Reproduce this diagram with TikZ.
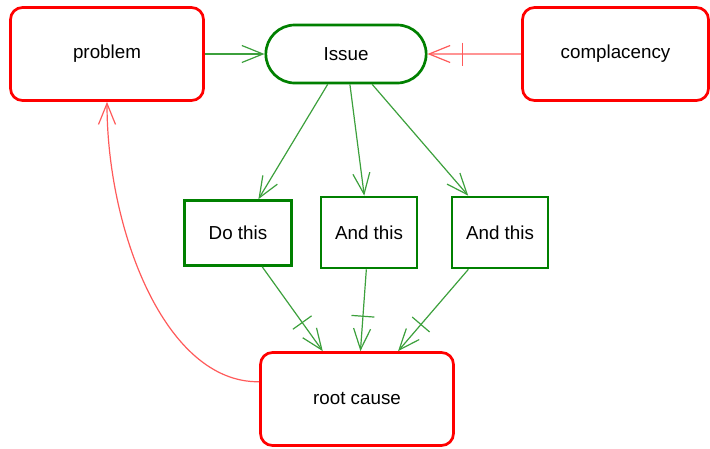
\documentclass[tikz,border=0pt]{standalone}
\usepackage{fontspec}
\setmainfont{Liberation Sans}
\usetikzlibrary{arrows.meta, shapes.misc, decorations.markings}

\definecolor{boxred}{RGB}{255,0,0}
\definecolor{boxgreen}{RGB}{0,128,0}
\definecolor{linegreen}{RGB}{60,160,60}
\definecolor{linered}{RGB}{255,90,90}

\begin{document}
\begin{tikzpicture}[x=1pt, y=-1pt,
    font=\fontsize{18.8}{22}\selectfont,
    redbox/.style={draw=boxred, line width=2.7pt, rounded corners=12pt,
        minimum width=193pt, minimum height=93pt},
    issuebox/.style={draw=boxgreen, line width=2.7pt, rounded rectangle,
        minimum width=167pt, minimum height=58pt},
    taskbox/.style={draw=boxgreen, line width=2.7pt, minimum width=96pt, minimum height=71pt},
    gline/.style={color=linegreen, line width=1.2pt, -{Straight Barb[length=21pt, width=17pt]}},
    rline/.style={color=linered, line width=1.2pt, -{Straight Barb[length=21pt, width=17pt]}},
    barred/.style={postaction={decorate, decoration={markings,
        mark=at position -35pt with {\draw[-] (0,-11.5pt) -- (0,11.5pt);}}}}
]
    % Fix the frame
    \useasboundingbox (0,0) rectangle (710,448);

    % Top row
    \node[redbox] (pb) at (107,54) {problem};
    \node[issuebox] (iss) at (346,54) {Issue};
    \node[redbox, minimum width=186pt] (cp) at (615.5,54) {complacency};

    % Tasks
    \node[taskbox, minimum width=107pt, minimum height=65pt] (do) at (238,233) {Do this};
    \node[taskbox] (and1) at (369,232.5) {And this};
    \node[taskbox] (and2) at (500,232.5) {And this};

    % Bottom
    \node[redbox] (rc) at (357,399) {root cause};

    % Connectors into the issue
    \draw[gline] (pb) -- (iss);
    \draw[rline, barred] (cp) -- (iss);

    % Issue to tasks
    \draw[gline] (iss) -- (do);
    \draw[gline] (iss) -- (and1);
    \draw[gline] (iss) -- (and2);

    % Tasks to root cause
    \draw[gline, barred] (do) -- (rc);
    \draw[gline, barred] (and1) -- (rc);
    \draw[gline, barred] (and2) -- (rc);

    % Root cause back to problem
    \draw[rline] (rc.170) .. controls (165,383) and (107,230) .. (pb.south);
\end{tikzpicture}
\end{document}
